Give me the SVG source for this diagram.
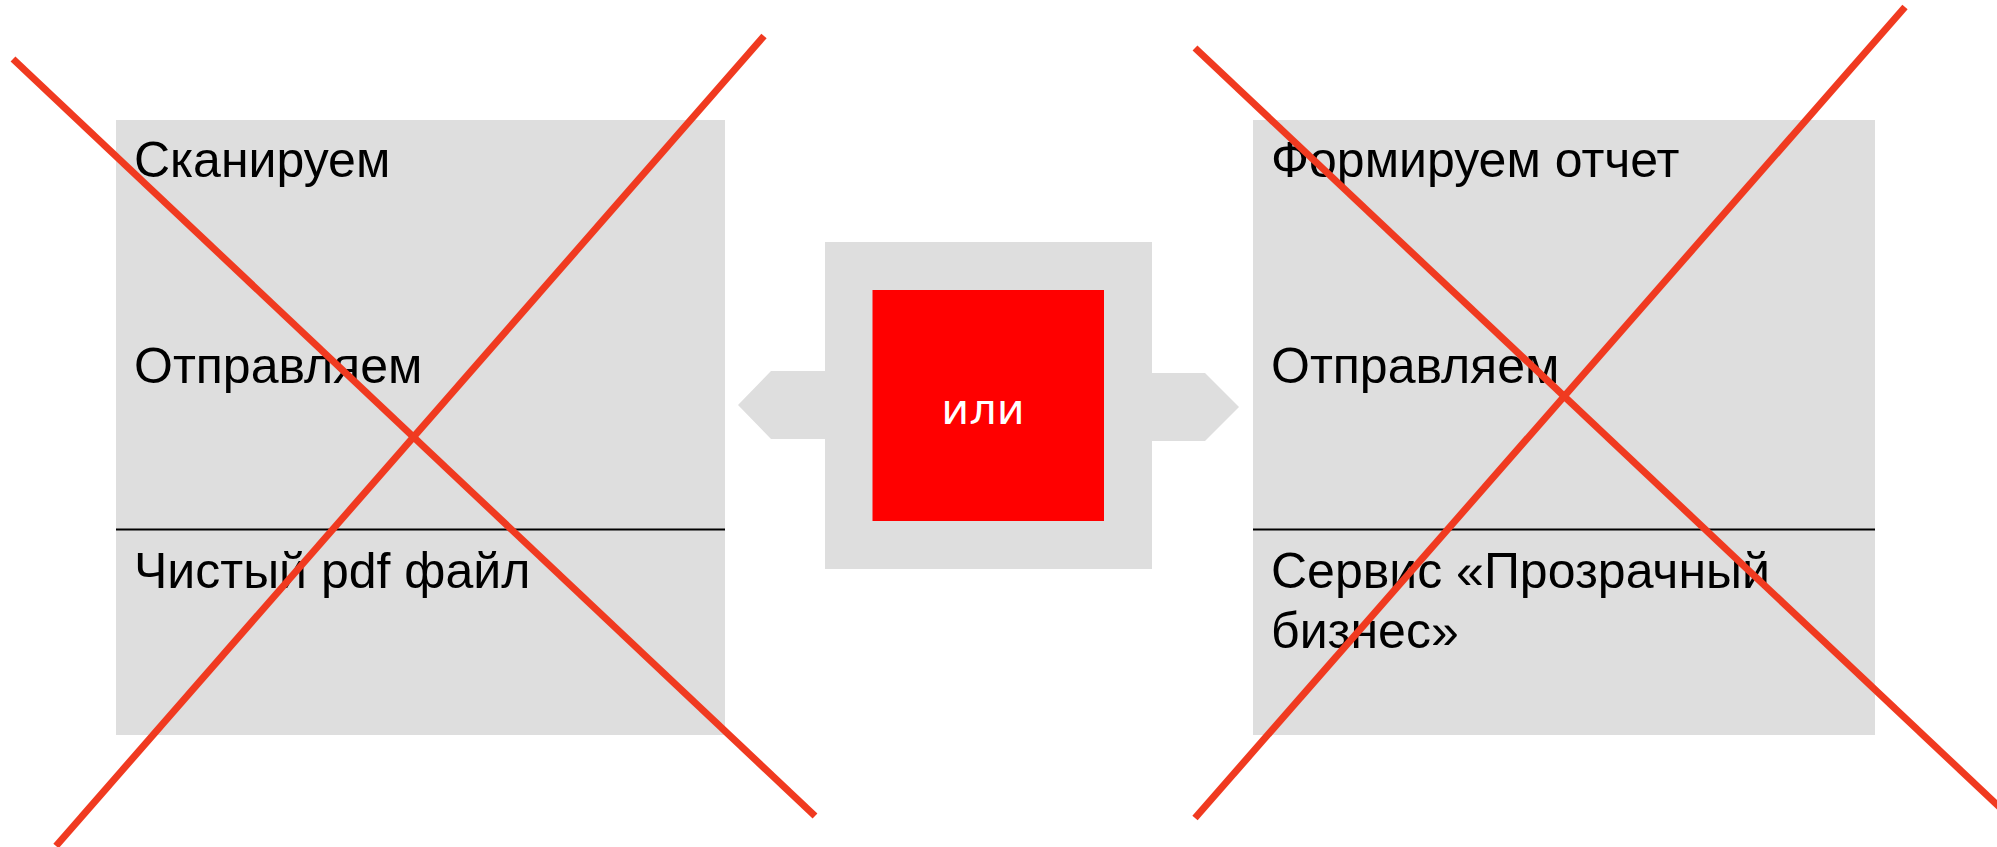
<svg xmlns="http://www.w3.org/2000/svg" width="1997" height="847" viewBox="0 0 1997 847">
  <style>
    .panel { fill: #dedede; }
    .divider { stroke: #000000; stroke-width: 2; }
    .label { font-family: "Liberation Sans", Arial, sans-serif; font-size: 50px; fill: #000000; }
    .or { font-family: "DejaVu Sans", Verdana, sans-serif; font-size: 43px; fill: #ffffff; text-anchor: middle; }
    .cross { stroke: #f03a20; stroke-width: 7; stroke-linecap: butt; fill: none; }
  </style>
  <rect width="1997" height="847" fill="#ffffff"/>
  <g id="left-panel">
    <rect class="panel" x="116" y="120" width="609" height="615"/>
    <line class="divider" x1="116" y1="529.5" x2="725" y2="529.5"/>
    <text class="label" x="134" y="177">Сканируем</text>
    <text class="label" x="134" y="383">Отправляем</text>
    <text class="label" x="134" y="588">Чистый pdf файл</text>
  </g>
  <g id="center">
    <polygon class="panel" points="825,242 1152,242 1152,373 1205,373 1239,407 1205,441 1152,441 1152,569 825,569 825,439 771,439 738,405 771,371 825,371"/>
    <rect x="872.5" y="290" width="231.5" height="231" fill="#ff0000"/>
    <text class="or" x="983" y="424">или</text>
  </g>
  <g id="right-panel">
    <rect class="panel" x="1253" y="120" width="622" height="615"/>
    <line class="divider" x1="1253" y1="529.5" x2="1875" y2="529.5"/>
    <text class="label" x="1271" y="177">Формируем отчет</text>
    <text class="label" x="1271" y="383">Отправляем</text>
    <text class="label" x="1271" y="588">Сервис «Прозрачный</text>
    <text class="label" x="1271" y="648">бизнес»</text>
  </g>
  <g id="connectors">
    <line class="cross" x1="13" y1="59" x2="815" y2="816"/>
    <line class="cross" x1="764" y1="36" x2="56" y2="846"/>
    <line class="cross" x1="1195" y1="48" x2="2010" y2="817"/>
    <line class="cross" x1="1905" y1="7" x2="1195" y2="818"/>
  </g>
</svg>
